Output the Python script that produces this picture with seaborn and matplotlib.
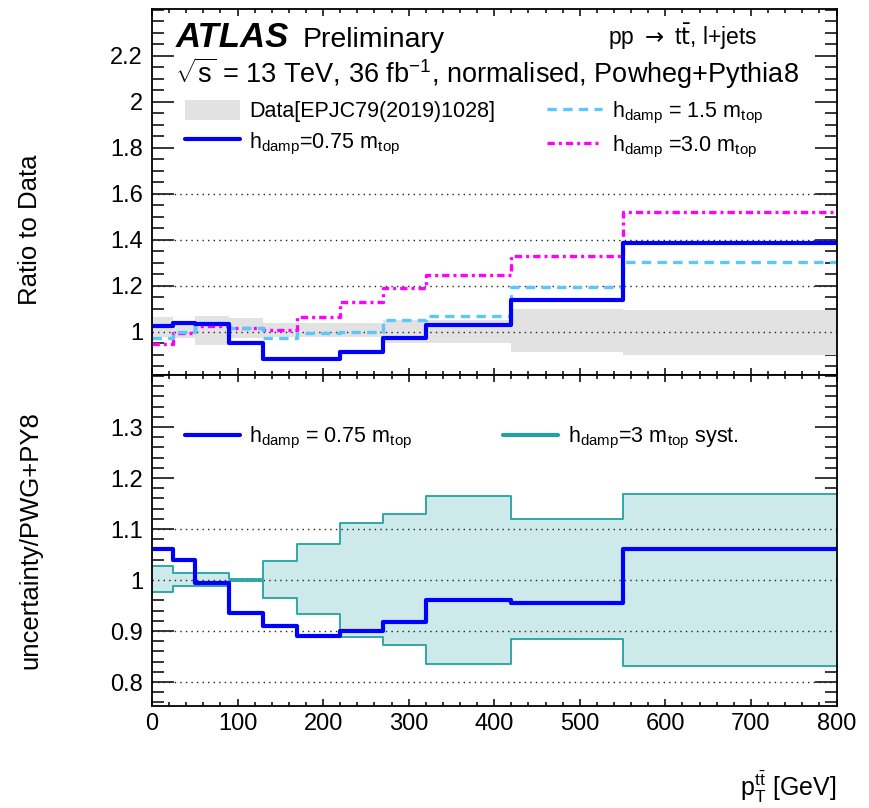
import matplotlib
matplotlib.use("Agg")
import matplotlib.pyplot as plt
from matplotlib.ticker import MultipleLocator, FixedLocator, FormatStrFormatter
import seaborn as sns

# bin edges of the top-pair transverse momentum [GeV]
edges = [0, 25, 50, 90, 130, 170, 220, 270, 320, 420, 550, 800]

# upper panel: predictions divided by the unfolded data
data_hi = [1.065, 1.03, 1.07, 1.06, 1.038, 1.038, 1.038, 1.05, 1.05, 1.10, 1.093]
data_lo = [0.977, 0.975, 0.943, 0.973, 0.977, 0.977, 0.977, 0.951, 0.951, 0.911, 0.897]
ratio_hdamp075 = [1.026, 1.038, 1.033, 0.951, 0.881, 0.881, 0.914, 0.972, 1.03, 1.139, 1.385]
ratio_hdamp15 = [0.975, 1.0, 1.037, 1.015, 0.975, 0.995, 1.0, 1.052, 1.068, 1.195, 1.305]
ratio_hdamp30 = [0.946, 0.995, 1.026, 1.016, 1.006, 1.064, 1.13, 1.19, 1.245, 1.33, 1.52]

# lower panel: variations relative to the nominal PWG+PY8 prediction
unc_hdamp075 = [1.06, 1.04, 0.995, 0.936, 0.91, 0.89, 0.90, 0.918, 0.96, 0.955, 1.06]
syst_hi = [1.027, 1.013, 1.013, 1.002, 1.038, 1.07, 1.111, 1.129, 1.165, 1.119, 1.168]
syst_lo = [0.976, 0.989, 0.989, 0.998, 0.964, 0.933, 0.888, 0.872, 0.835, 0.884, 0.831]

top_grid = [1.0, 1.2, 1.4, 1.6]
bottom_grid = [0.8, 0.9, 1.0, 1.1]
top_yticks = [1.0, 1.2, 1.4, 1.6, 1.8, 2.0, 2.2]
bottom_yticks = [0.8, 0.9, 1.0, 1.1, 1.2, 1.3]

BLUE = "#0000ff"
LIGHTBLUE = "#5ac8fa"
MAGENTA = "#ff00ff"
TEAL = "#22a3a1"
TEAL_FILL = "#cde9e9"
GREY = "#e2e2e2"

sns.set_theme(style="ticks")
plt.rcParams["font.family"] = ["Liberation Sans", "DejaVu Sans"]
plt.rcParams["mathtext.fontset"] = "custom"
plt.rcParams["mathtext.rm"] = "Liberation Sans"
plt.rcParams["mathtext.it"] = "Liberation Sans:italic"
plt.rcParams["mathtext.bf"] = "Liberation Sans:bold"
plt.rcParams["text.color"] = "black"
plt.rcParams["axes.labelcolor"] = "black"

W, H = 869, 808
fig = plt.figure(figsize=(W / 100, H / 100), dpi=100)
x0, x1 = 152, 836.5
y_top, y_mid, y_bot = 9, 375, 706
ax1 = fig.add_axes([x0 / W, 1 - y_mid / H, (x1 - x0) / W, (y_mid - y_top) / H])
ax2 = fig.add_axes([x0 / W, 1 - y_bot / H, (x1 - x0) / W, (y_bot - y_mid) / H])


def steps(ax, vals, **kw):
    sns.lineplot(x=edges, y=list(vals) + [vals[-1]], drawstyle="steps-post",
                 estimator=None, sort=False, ax=ax, **kw)


def band(ax, lo, hi, **kw):
    return ax.fill_between(edges, list(lo) + [lo[-1]], list(hi) + [hi[-1]],
                           step="post", lw=0, **kw)


# ---- upper panel
band(ax1, data_lo, data_hi, color=GREY, zorder=1, label="Data[EPJC79(2019)1028]")
for lv in top_grid:
    ax1.axhline(lv, color="#222222", lw=1.0, ls=(0, (1, 3.0)), zorder=1.5)
steps(ax1, ratio_hdamp30, color=MAGENTA, lw=2.4, ls=(0, (2.2, 1.2, 0.9, 1.2)),
      zorder=2.1, label=r"$\mathrm{h}_{\mathrm{damp}}$ =3.0 $\mathrm{m}_{\mathrm{top}}$")
steps(ax1, ratio_hdamp15, color=LIGHTBLUE, lw=2.4, ls=(0, (2.8, 1.9)),
      zorder=2.2, label=r"$\mathrm{h}_{\mathrm{damp}}$ = 1.5 $\mathrm{m}_{\mathrm{top}}$")
steps(ax1, ratio_hdamp075, color=BLUE, lw=3.0, zorder=2.3,
      label=r"$\mathrm{h}_{\mathrm{damp}}$=0.75 $\mathrm{m}_{\mathrm{top}}$")

h, l = ax1.get_legend_handles_labels()
order = [l.index("Data[EPJC79(2019)1028]"), 3, 2, 1]
ax1.legend([h[i] for i in order], [l[i] for i in order], ncol=2, frameon=False,
           fontsize=15.5, handlelength=2.55, handleheight=1.0, handletextpad=0.45,
           columnspacing=2.4, labelspacing=0.38, borderpad=0, borderaxespad=0,
           loc="upper left", bbox_to_anchor=(0.048, 0.752))

# ---- lower panel
band(ax2, syst_lo, syst_hi, color=TEAL_FILL, zorder=1)
for lv in bottom_grid:
    ax2.axhline(lv, color="#222222", lw=1.0, ls=(0, (1, 3.0)), zorder=1.5)
steps(ax2, syst_hi, color=TEAL, lw=1.3, zorder=2.1,
      label=r"$\mathrm{h}_{\mathrm{damp}}$=3 $\mathrm{m}_{\mathrm{top}}$ syst.")
steps(ax2, syst_lo, color=TEAL, lw=1.3, zorder=2.1)
steps(ax2, unc_hdamp075, color=BLUE, lw=3.0, zorder=2.3,
      label=r"$\mathrm{h}_{\mathrm{damp}}$ = 0.75 $\mathrm{m}_{\mathrm{top}}$")
h, l = ax2.get_legend_handles_labels()
leg2 = ax2.legend([h[1], h[0]], [l[1], l[0]], ncol=2, frameon=False,
                  fontsize=15.5, handlelength=2.55, handletextpad=0.45,
                  columnspacing=4.2, borderpad=0, borderaxespad=0,
                  loc="upper left", bbox_to_anchor=(0.048, 0.849))
for line in leg2.get_lines():
    line.set_linewidth(3.0)

# ---- axes styling
ax1.set_ylim(0.812, 2.404)
ax2.set_ylim(0.753, 1.402)
ax1.yaxis.set_major_locator(FixedLocator(top_yticks))
ax1.yaxis.set_minor_locator(MultipleLocator(0.05))
ax2.yaxis.set_major_locator(FixedLocator(bottom_yticks))
ax2.yaxis.set_minor_locator(MultipleLocator(0.02))
for ax in (ax1, ax2):
    ax.set_xlim(0, 800)
    ax.xaxis.set_major_locator(MultipleLocator(100))
    ax.xaxis.set_minor_locator(MultipleLocator(20))
    ax.yaxis.set_major_formatter(FormatStrFormatter("%g"))
    ax.tick_params(which="both", direction="in", top=True, right=True,
                   width=1.1, color="black", labelsize=17, labelcolor="black")
    ax.tick_params(axis="y", which="major", length=16, pad=6.5)
    ax.tick_params(axis="y", which="minor", length=8.5)
    ax.tick_params(axis="x", which="major", length=5, pad=5)
    ax.tick_params(axis="x", which="minor", length=2.8)
    for sp in ax.spines.values():
        sp.set_visible(True)
        sp.set_linewidth(1.3)
        sp.set_color("black")
    ax.set_xlabel("")
    ax.set_ylabel("")
ax1.tick_params(labelbottom=False)

ax1.set_ylabel("Ratio to Data", fontsize=18.5)
ax1.yaxis.set_label_coords(-0.16, 0.396)
ax2.set_ylabel("uncertainty/PWG+PY8", fontsize=18.5)
ax2.yaxis.set_label_coords(-0.16, 0.5)
ax2.set_xlabel(r"$\mathrm{p}_{\mathrm{T}}^{\mathrm{t}\bar{\mathrm{t}}}$ [GeV]", fontsize=18)
ax2.xaxis.label.set_ha("right")
ax2.xaxis.set_label_coords(1.0, -0.19)

# ---- header text
fig.text(176 / W, 1 - 47 / H, "ATLAS", fontsize=25, fontweight="bold",
         fontstyle="italic", va="baseline")
fig.text(303 / W, 1 - 47 / H, "Preliminary", fontsize=20.5, va="baseline")
fig.text(175 / W, 1 - 83 / H,
         r"$\sqrt{\mathrm{s}}$ = 13 TeV, 36 fb$^{\mathrm{-1}}$, normalised, Powheg+Pythia8",
         fontsize=19.5, va="baseline")
fig.text(757 / W, 1 - 45 / H, r"pp $\rightarrow$ t$\bar{\mathrm{t}}$, l+jets",
         fontsize=16.5, va="baseline", ha="right", math_fontfamily="dejavusans")

fig.savefig("out.png", dpi=100, facecolor="white")
